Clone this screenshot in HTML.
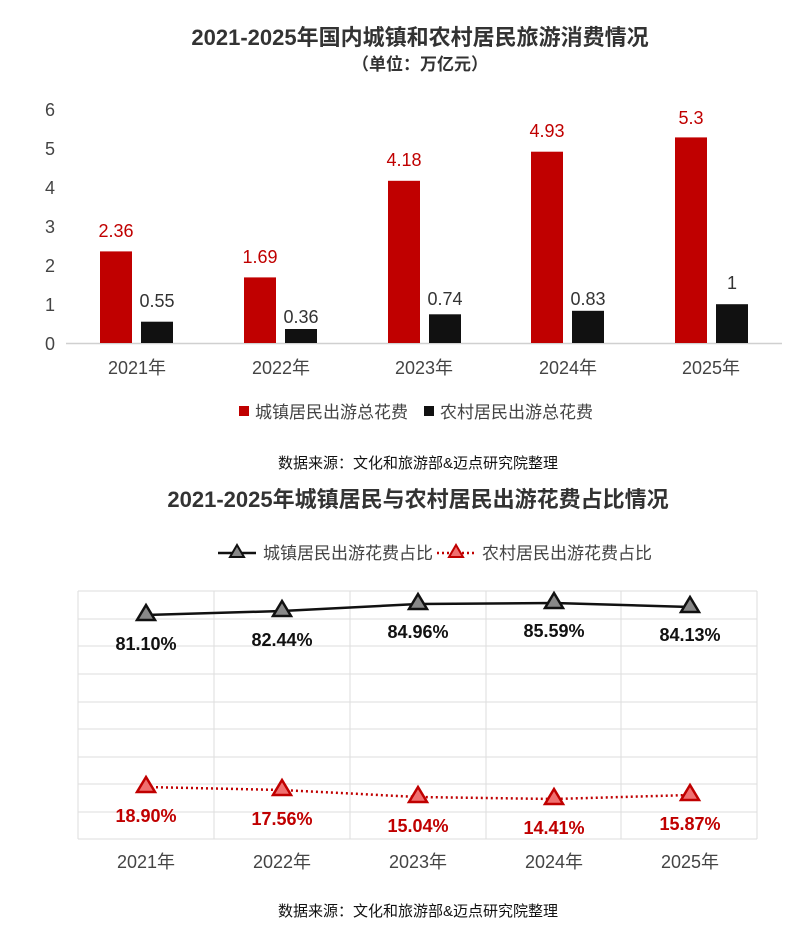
<!DOCTYPE html>
<html><head><meta charset="utf-8"><style>
body{margin:0;background:#fff;}
svg text{font-family:"Liberation Sans","Noto Sans CJK SC",sans-serif;}
</style></head><body>
<svg width="800" height="936" viewBox="0 0 800 936" xmlns="http://www.w3.org/2000/svg">
<rect width="800" height="936" fill="#fff"/>
<text x="420" y="45" font-size="22" font-weight="bold" fill="#333" text-anchor="middle">2021-2025年国内城镇和农村居民旅游消费情况</text>
<text x="420" y="70" font-size="17" font-weight="bold" fill="#333" text-anchor="middle">（单位：万亿元）</text>
<g font-size="18" fill="#444" text-anchor="middle">
<text x="50" y="116">6</text><text x="50" y="155">5</text><text x="50" y="194">4</text>
<text x="50" y="233">3</text><text x="50" y="272">2</text><text x="50" y="311">1</text><text x="50" y="350">0</text>
</g>
<line x1="66" y1="343.5" x2="782" y2="343.5" stroke="#d0d0d0" stroke-width="1.5"/>
<g fill="#c00000">
<rect x="100" y="251.4" width="32" height="91.6"/>
<rect x="244" y="277.4" width="32" height="65.6"/>
<rect x="388" y="180.8" width="32" height="162.2"/>
<rect x="531" y="151.7" width="32" height="191.3"/>
<rect x="675" y="137.4" width="32" height="205.6"/>
</g>
<g fill="#111">
<rect x="141" y="321.7" width="32" height="21.3"/>
<rect x="285" y="329.0" width="32" height="14"/>
<rect x="429" y="314.3" width="32" height="28.7"/>
<rect x="572" y="310.8" width="32" height="32.2"/>
<rect x="716" y="304.2" width="32" height="38.8"/>
</g>
<g font-size="18" fill="#c00000" text-anchor="middle">
<text x="116" y="237">2.36</text><text x="260" y="263">1.69</text><text x="404" y="166">4.18</text>
<text x="547" y="137">4.93</text><text x="691" y="124">5.3</text>
</g>
<g font-size="18" fill="#333" text-anchor="middle">
<text x="157" y="307">0.55</text><text x="301" y="323">0.36</text><text x="445" y="305">0.74</text>
<text x="588" y="305">0.83</text><text x="732" y="289">1</text>
</g>
<g font-size="18" fill="#444" text-anchor="middle">
<text x="137" y="374">2021年</text><text x="281" y="374">2022年</text><text x="424" y="374">2023年</text>
<text x="568" y="374">2024年</text><text x="711" y="374">2025年</text>
</g>
<rect x="239" y="406" width="10" height="10" fill="#c00000"/>
<text x="255" y="418" font-size="17" fill="#444">城镇居民出游总花费</text>
<rect x="424" y="406" width="10" height="10" fill="#111"/>
<text x="440" y="418" font-size="17" fill="#444">农村居民出游总花费</text>
<text x="418" y="468" font-size="15" fill="#111" text-anchor="middle">数据来源：文化和旅游部&amp;迈点研究院整理</text>
<text x="418" y="507" font-size="22" font-weight="bold" fill="#333" text-anchor="middle">2021-2025年城镇居民与农村居民出游花费占比情况</text>
<line x1="218" y1="553" x2="256" y2="553" stroke="#111" stroke-width="2.5"/>
<polygon points="237,545 244,557 230,557" fill="#888" stroke="#111" stroke-width="2"/>
<text x="263" y="559" font-size="17" fill="#444">城镇居民出游花费占比</text>
<line x1="437" y1="553" x2="475" y2="553" stroke="#c00000" stroke-width="2.5" stroke-dasharray="2,3"/>
<polygon points="456,545 463,557 449,557" fill="#f07070" stroke="#c00000" stroke-width="2"/>
<text x="482" y="559" font-size="17" fill="#444">农村居民出游花费占比</text>
<g stroke="#ddd" stroke-width="1">
<line x1="78" y1="591" x2="757" y2="591"/><line x1="78" y1="619" x2="757" y2="619"/>
<line x1="78" y1="646" x2="757" y2="646"/><line x1="78" y1="674" x2="757" y2="674"/>
<line x1="78" y1="702" x2="757" y2="702"/><line x1="78" y1="729" x2="757" y2="729"/>
<line x1="78" y1="757" x2="757" y2="757"/><line x1="78" y1="784" x2="757" y2="784"/>
<line x1="78" y1="812" x2="757" y2="812"/><line x1="78" y1="839" x2="757" y2="839"/>
<line x1="78" y1="591" x2="78" y2="839"/><line x1="214" y1="591" x2="214" y2="839"/>
<line x1="350" y1="591" x2="350" y2="839"/><line x1="486" y1="591" x2="486" y2="839"/>
<line x1="621" y1="591" x2="621" y2="839"/><line x1="757" y1="591" x2="757" y2="839"/>
</g>
<polyline points="146,615 282,611 418,604 554,603 690,607" fill="none" stroke="#111" stroke-width="2.5"/>
<g fill="#888" stroke="#111" stroke-width="2.5">
<polygon points="146,605 155,620 137,620"/><polygon points="282,601 291,616 273,616"/>
<polygon points="418,594 427,609 409,609"/><polygon points="554,593 563,608 545,608"/>
<polygon points="690,597 699,612 681,612"/>
</g>
<polyline points="146,787 282,790 418,797 554,799 690,795" fill="none" stroke="#c00000" stroke-width="2.5" stroke-dasharray="2,3"/>
<g fill="#f07070" stroke="#c00000" stroke-width="2.5">
<polygon points="146,777 155,792 137,792"/><polygon points="282,780 291,795 273,795"/>
<polygon points="418,787 427,802 409,802"/><polygon points="554,789 563,804 545,804"/>
<polygon points="690,785 699,800 681,800"/>
</g>
<g font-size="18" font-weight="bold" fill="#111" text-anchor="middle">
<text x="146" y="650">81.10%</text><text x="282" y="646">82.44%</text><text x="418" y="638">84.96%</text>
<text x="554" y="637">85.59%</text><text x="690" y="641">84.13%</text>
</g>
<g font-size="18" font-weight="bold" fill="#c00000" text-anchor="middle">
<text x="146" y="822">18.90%</text><text x="282" y="825">17.56%</text><text x="418" y="832">15.04%</text>
<text x="554" y="834">14.41%</text><text x="690" y="830">15.87%</text>
</g>
<g font-size="18" fill="#444" text-anchor="middle">
<text x="146" y="868">2021年</text><text x="282" y="868">2022年</text><text x="418" y="868">2023年</text>
<text x="554" y="868">2024年</text><text x="690" y="868">2025年</text>
</g>
<text x="418" y="916" font-size="15" fill="#111" text-anchor="middle">数据来源：文化和旅游部&amp;迈点研究院整理</text>
</svg>
</body></html>
